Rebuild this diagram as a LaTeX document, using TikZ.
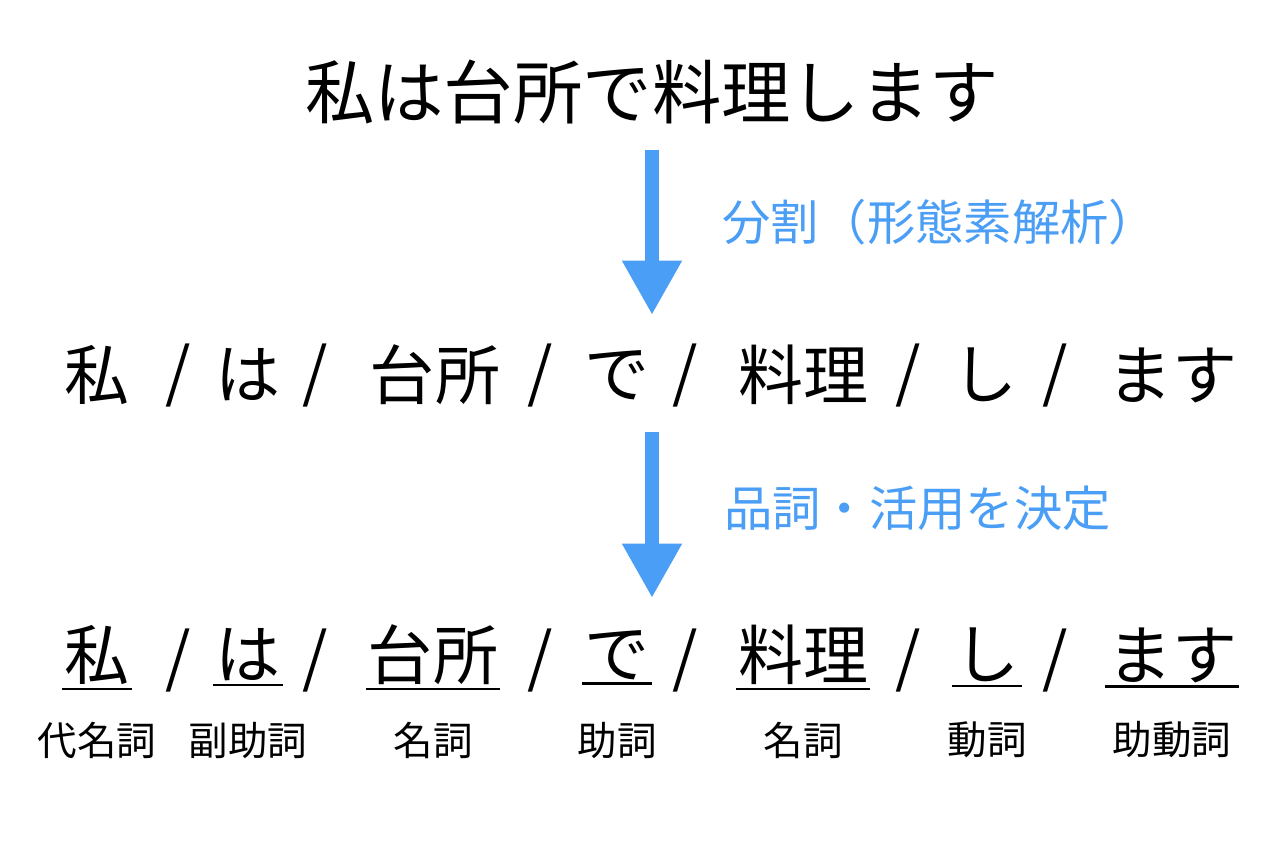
\documentclass[tikz,border=0pt]{standalone}
\usepackage{fontspec}
\setmainfont{Noto Sans CJK JP}
\usetikzlibrary{arrows.meta}
\definecolor{flowblue}{HTML}{4A9EF5}
\tikzset{
  big/.style={font=\fontsize{37}{40}\selectfont, inner sep=0pt},
  title/.style={font=\fontsize{39.5}{42}\selectfont, inner sep=0pt},
  note/.style={font=\fontsize{27.5}{30}\selectfont, text=flowblue, anchor=west},
  poslabel/.style={font=\fontsize{22.5}{25}\selectfont},
  flow/.style={line width=8pt, flowblue, -{Triangle[width=32pt,length=31pt]}},
}
\begin{document}
\begin{tikzpicture}[x=0.02cm,y=-0.02cm]
\useasboundingbox (0,0) rectangle (1270,843);
\node[title] (src) at (652,92) {私は台所で料理します};
\coordinate (a1) at (652,150);
\coordinate (b1) at (652,315);
\draw[flow] (a1) -- (b1);
\node[note] (step1) at (716,222) {分割（形態素解析）};
% second line: split words
\foreach \w/\x [count=\i] in {私/97,は/248,台所/435,で/617,料理/803,し/985,ます/1172}
  \node[big] (w\i) at (\x,375) {\w};
\foreach \x [count=\i] in {178,315,540,685,908,1055}
  \node[big] (s\i) at (\x,375) {/};
\coordinate (a2) at (652,432);
\coordinate (b2) at (652,598);
\draw[flow] (a2) -- (b2);
\node[note] (step2) at (718,508) {品詞・活用を決定};
% third line: words with part of speech
\foreach \w/\x/\p [count=\i] in {私/97/代名詞,は/248/副助詞,台所/433/名詞,で/617/助詞,料理/803/名詞,し/987/動詞,ます/1172/助動詞}{
  \node[big, inner ysep=2pt, inner xsep=1pt] (u\i) at (\x,655) {\w};
  \draw[line width=1.2pt] (u\i.south west) -- (u\i.south east);
  \node[poslabel] (p\i) at (\x,740) {\p};
}
\foreach \x [count=\i] in {178,315,540,685,908,1055}
  \node[big] (t\i) at (\x,660) {/};
\end{tikzpicture}
\end{document}
